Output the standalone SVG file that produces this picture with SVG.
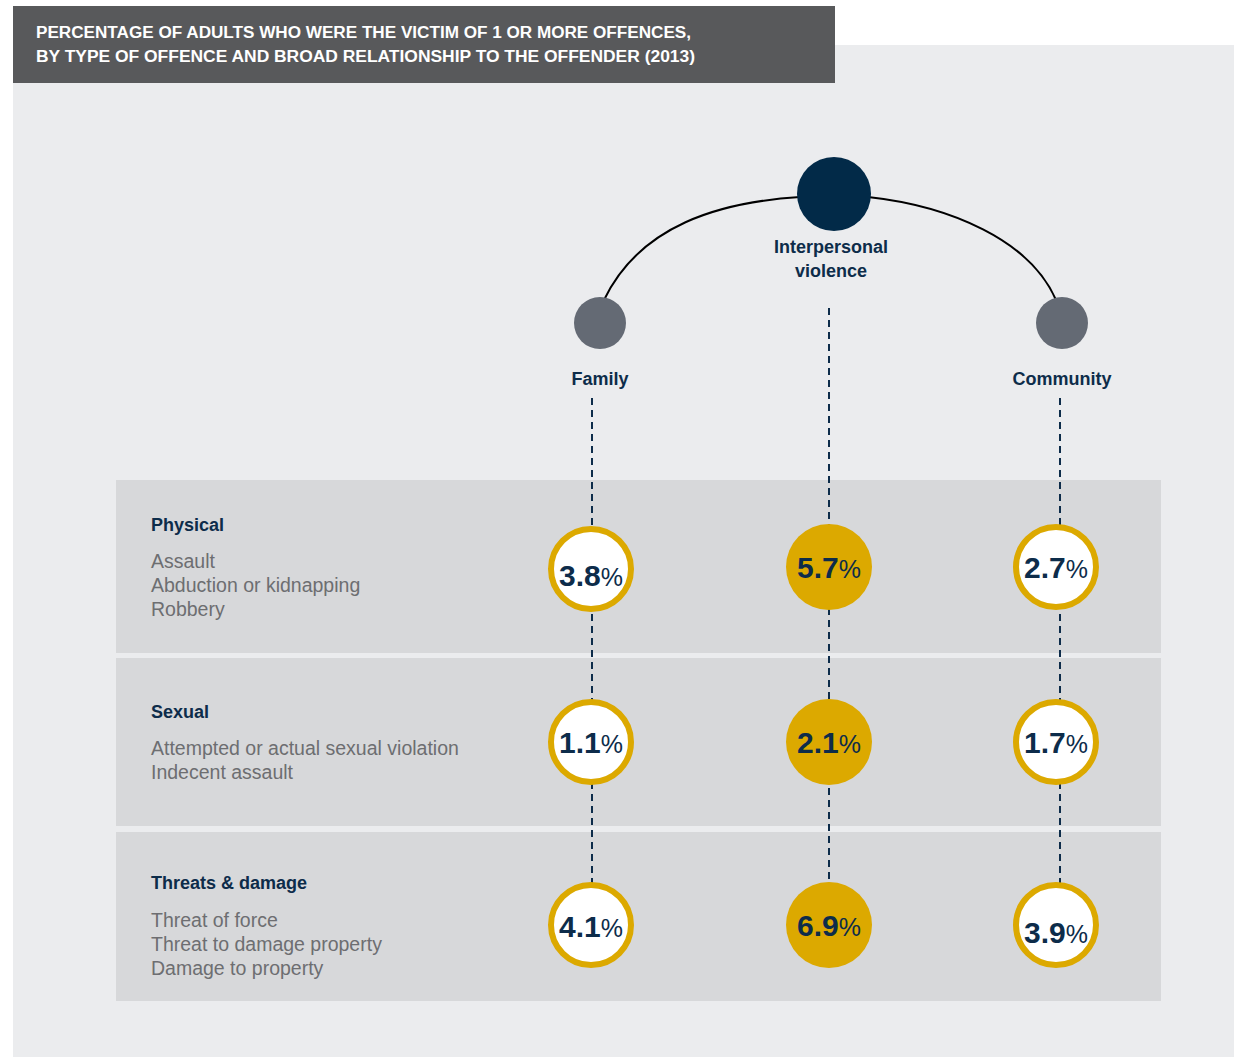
<svg xmlns="http://www.w3.org/2000/svg" width="1234" height="1057" viewBox="0 0 1234 1057">
<style>
.title{font-family:"Liberation Sans",Arial,sans-serif;font-weight:bold;font-size:16px;fill:#ffffff}
.hdr{font-family:"Liberation Sans",Arial,sans-serif;font-weight:bold;font-size:18px;fill:#0d2c4a;text-anchor:middle}
.rowh{font-family:"Liberation Sans",Arial,sans-serif;font-weight:bold;font-size:18px;fill:#0d2c4a}
.item{font-family:"Liberation Sans",Arial,sans-serif;font-size:19.5px;fill:#6d6e71}
.num{font-family:"Liberation Sans",Arial,sans-serif;font-size:30px;fill:#0d2c4a;text-anchor:middle}
.num .b{font-weight:bold}
.num .p{font-weight:normal;font-size:25px}
.ring{fill:#ffffff;stroke:#dca900;stroke-width:6}
.solid{fill:#dca900}
.dash{stroke:#0d2c4a;stroke-width:2;stroke-dasharray:7,5;fill:none}
.row{fill:#d7d8da}
</style>
<rect x="13" y="45" width="1221" height="1012" fill="#ebecee"/>
<rect x="13" y="6" width="822" height="77" fill="#58595b"/>
<text class="title" x="36" y="38" textLength="655" lengthAdjust="spacingAndGlyphs">PERCENTAGE OF ADULTS WHO WERE THE VICTIM OF 1 OR MORE OFFENCES,</text>
<text class="title" x="36" y="62" textLength="659" lengthAdjust="spacingAndGlyphs">BY TYPE OF OFFENCE AND BROAD RELATIONSHIP TO THE OFFENDER (2013)</text>

<rect class="row" x="116" y="480" width="1045" height="173"/>
<rect class="row" x="116" y="658" width="1045" height="168"/>
<rect class="row" x="116" y="832" width="1045" height="169"/>

<g id="connectors">
<path d="M604,300 C640,225 720,202 800,197" fill="none" stroke="#000" stroke-width="2"/>
<path d="M868,197 C950,206 1030,240 1056,300" fill="none" stroke="#000" stroke-width="2"/>
<line class="dash" x1="592" y1="398" x2="592" y2="885"/>
<line class="dash" x1="829" y1="308" x2="829" y2="885"/>
<line class="dash" x1="1060" y1="398" x2="1060" y2="885"/>
</g>

<g id="interpersonal">
<circle cx="834" cy="194" r="37" fill="#022a48"/>
<text class="hdr" x="831" y="253">Interpersonal</text>
<text class="hdr" x="831" y="277">violence</text>
</g>
<g id="family">
<circle cx="600" cy="323" r="26" fill="#646a74"/>
<text class="hdr" x="600" y="385">Family</text>
</g>
<g id="community">
<circle cx="1062" cy="323" r="26" fill="#646a74"/>
<text class="hdr" x="1062" y="385">Community</text>
</g>

<g id="physical">
<text class="rowh" x="151" y="531">Physical</text>
<text class="item" x="151" y="568">Assault</text>
<text class="item" x="151" y="592">Abduction or kidnapping</text>
<text class="item" x="151" y="616">Robbery</text>
</g>
<g id="sexual">
<text class="rowh" x="151" y="718">Sexual</text>
<text class="item" x="151" y="755">Attempted or actual sexual violation</text>
<text class="item" x="151" y="779">Indecent assault</text>
</g>
<g id="threats">
<text class="rowh" x="151" y="889">Threats &amp; damage</text>
<text class="item" x="151" y="927">Threat of force</text>
<text class="item" x="151" y="951">Threat to damage property</text>
<text class="item" x="151" y="975">Damage to property</text>
</g>

<g id="v-family-physical"><circle class="ring" cx="591" cy="569" r="40"/><text class="num" x="591" y="586"><tspan class="b">3.8</tspan><tspan class="p">%</tspan></text></g>
<g id="v-ipv-physical"><circle class="solid" cx="829" cy="567" r="43"/><text class="num" x="829" y="578"><tspan class="b">5.7</tspan><tspan class="p">%</tspan></text></g>
<g id="v-community-physical"><circle class="ring" cx="1056" cy="567" r="40"/><text class="num" x="1056" y="578"><tspan class="b">2.7</tspan><tspan class="p">%</tspan></text></g>

<g id="v-family-sexual"><circle class="ring" cx="591" cy="742" r="40"/><text class="num" x="591" y="753"><tspan class="b">1.1</tspan><tspan class="p">%</tspan></text></g>
<g id="v-ipv-sexual"><circle class="solid" cx="829" cy="742" r="43"/><text class="num" x="829" y="753"><tspan class="b">2.1</tspan><tspan class="p">%</tspan></text></g>
<g id="v-community-sexual"><circle class="ring" cx="1056" cy="742" r="40"/><text class="num" x="1056" y="753"><tspan class="b">1.7</tspan><tspan class="p">%</tspan></text></g>

<g id="v-family-threats"><circle class="ring" cx="591" cy="925" r="40"/><text class="num" x="591" y="937"><tspan class="b">4.1</tspan><tspan class="p">%</tspan></text></g>
<g id="v-ipv-threats"><circle class="solid" cx="829" cy="925" r="43"/><text class="num" x="829" y="936"><tspan class="b">6.9</tspan><tspan class="p">%</tspan></text></g>
<g id="v-community-threats"><circle class="ring" cx="1056" cy="925" r="40"/><text class="num" x="1056" y="943"><tspan class="b">3.9</tspan><tspan class="p">%</tspan></text></g>
</svg>
